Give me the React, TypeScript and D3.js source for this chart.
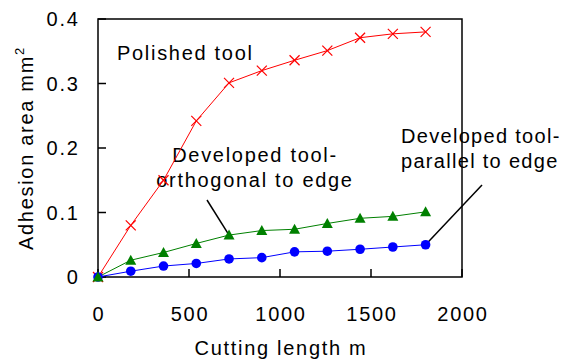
import React from "react";
import * as d3 from "d3";

const width = 566;
const height = 362;
const margin = { top: 19, right: 104, bottom: 85, left: 98 };

const cuttingLength = [0, 180, 360, 540, 720, 900, 1080, 1260, 1440, 1620, 1800];
const polished = [0, 0.08, 0.15, 0.242, 0.301, 0.32, 0.336, 0.351, 0.371, 0.377, 0.38];
const orthogonal = [0, 0.026, 0.038, 0.052, 0.065, 0.072, 0.074, 0.083, 0.091, 0.094, 0.101];
const parallel = [0, 0.009, 0.017, 0.021, 0.028, 0.03, 0.039, 0.04, 0.043, 0.0465, 0.05];

const xTicks = [0, 500, 1000, 1500, 2000];
const yTicks = [0, 0.1, 0.2, 0.3, 0.4];
const yTickLabels = ["0", "0.1", "0.2", "0.3", "0.4"];

const font = "'Liberation Sans', Arial, sans-serif";

export default function App() {
  const x = d3
    .scaleLinear()
    .domain([0, 2000])
    .range([margin.left, width - margin.right]);
  const y = d3
    .scaleLinear()
    .domain([0, 0.4])
    .range([height - margin.bottom, margin.top]);

  const line = d3
    .line<number>()
    .x((d, i) => x(cuttingLength[i]))
    .y(d => y(d));

  const x0 = x(0);
  const x1 = x(2000);
  const y0 = y(0);
  const y1 = y(0.4);

  // leader lines point at markers
  const orthoTarget = { x: x(cuttingLength[4]), y: y(orthogonal[4]) };
  const paraTarget = { x: x(cuttingLength[10]), y: y(parallel[10]) };

  const textStyle = { fontFamily: font, fontSize: 20, letterSpacing: 1.7 };
  const tightStyle = { ...textStyle, letterSpacing: 1.3 };

  return (
    <svg
      width={width}
      height={height}
      style={{ position: "absolute", left: 0, top: 0, background: "#fff" }}
    >
      {xTicks.map(t => (
        <text key={"xl" + t} x={x(t) + 1} y={321} textAnchor="middle" style={textStyle}>
          {t}
        </text>
      ))}
      {yTicks.map((t, i) => (
        <text key={"yl" + t} x={79.5} y={y(t) + 7} textAnchor="end" style={textStyle}>
          {yTickLabels[i]}
        </text>
      ))}

      {/* axis titles */}
      <text x={x(1000) + 1} y={355} textAnchor="middle" style={textStyle}>
        Cutting length m
      </text>
      <text transform="translate(33,250) rotate(-90)" style={textStyle}>
        Adhesion area mm
        <tspan fontSize={13} dy={-9} letterSpacing={0}>
          2
        </tspan>
      </text>

      {/* annotations */}
      <text x={117} y={60} style={textStyle}>
        Polished tool
      </text>
      <text x={255} y={162} textAnchor="middle" style={textStyle}>
        Developed tool-
      </text>
      <text x={255} y={187} textAnchor="middle" style={textStyle}>
        orthogonal to edge
      </text>
      <line x1={207} y1={200} x2={orthoTarget.x} y2={orthoTarget.y} stroke="#000" strokeWidth={1.5} />

      <text x={401} y={143} style={tightStyle}>
        Developed tool-
      </text>
      <text x={401} y={168} style={tightStyle}>
        parallel to edge
      </text>
      <line x1={482} y1={185} x2={paraTarget.x} y2={paraTarget.y} stroke="#000" strokeWidth={1.5} />

      {/* frame */}
      <rect
        x={x0}
        y={y1}
        width={x1 - x0}
        height={y0 - y1}
        fill="none"
        stroke="#000"
        strokeWidth={1.5}
      />
      {/* ticks inward */}
      {xTicks.map(t => (
        <line key={"xt" + t} x1={x(t)} x2={x(t)} y1={y0} y2={y0 - 8} stroke="#000" strokeWidth={1.5} />
      ))}
      {yTicks.map(t => (
        <line key={"yt" + t} x1={x0} x2={x0 + 8} y1={y(t)} y2={y(t)} stroke="#000" strokeWidth={1.5} />
      ))}

      {/* series lines */}
      <path d={line(polished) || ""} fill="none" stroke="#ff0000" strokeWidth={1} />
      <path d={line(orthogonal) || ""} fill="none" stroke="#008000" strokeWidth={1} />
      <path d={line(parallel) || ""} fill="none" stroke="#0000ff" strokeWidth={1} />

      {/* markers */}
      {polished.map((v, i) => {
        const cx = x(cuttingLength[i]);
        const cy = y(v);
        const s = 5;
        return (
          <g key={"p" + i} stroke="#ff0000" strokeWidth={1.2}>
            <line x1={cx - s} y1={cy - s} x2={cx + s} y2={cy + s} />
            <line x1={cx - s} y1={cy + s} x2={cx + s} y2={cy - s} />
          </g>
        );
      })}
      {parallel.map((v, i) => (
        <circle key={"b" + i} cx={x(cuttingLength[i])} cy={y(v)} r={4.8} fill="#0000ff" />
      ))}
      {orthogonal.map((v, i) => {
        const cx = x(cuttingLength[i]);
        const cy = y(v);
        return (
          <path
            key={"g" + i}
            d={`M${cx},${cy - 5.5}L${cx + 5.5},${cy + 4.5}L${cx - 5.5},${cy + 4.5}Z`}
            fill="#008000"
          />
        );
      })}
    </svg>
  );
}
